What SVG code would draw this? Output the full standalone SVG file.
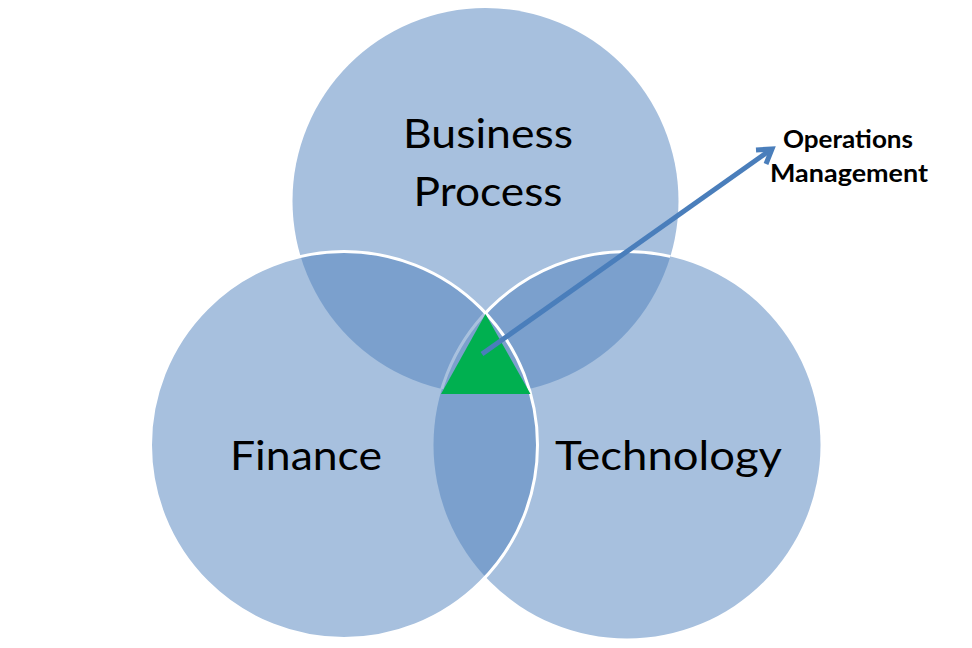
<svg xmlns="http://www.w3.org/2000/svg" width="972" height="648" viewBox="0 0 972 648">
<defs>
<style>
.base{fill:#A7C0DE;}
.ov{fill:#7BA0CD;}
.lbl{font-family:Lato,"Liberation Sans",sans-serif;font-size:40px;fill:#000;text-anchor:middle;}
.ann{font-family:Lato,"Liberation Sans",sans-serif;font-size:24px;font-weight:bold;fill:#000;text-anchor:middle;}
.wl{fill:none;stroke:#fff;stroke-width:3;}
.conn{fill:none;stroke:#4A7EBB;stroke-width:5;}
</style>
<clipPath id="cTop"><circle cx="485.5" cy="201" r="193"/></clipPath>
<clipPath id="cLeft"><circle cx="344" cy="445" r="193.5"/></clipPath>
<clipPath id="cNotLeft"><path clip-rule="evenodd" d="M0,0H972V648H0Z M150.5,445 a193.5,193.5 0 1,0 387,0 a193.5,193.5 0 1,0 -387,0Z"/></clipPath>
</defs>
<rect width="972" height="648" fill="#fff"/>
<g id="business-process">
<circle class="base" cx="485.5" cy="201" r="193"/>
</g>
<g id="technology">
<circle class="base" cx="627" cy="445" r="193.5"/>
</g>
<g id="finance">
<circle class="base" cx="344" cy="445" r="193.5"/>
</g>
<g id="overlaps">
<g clip-path="url(#cTop)"><circle class="ov" cx="344" cy="445" r="193.5"/><circle class="ov" cx="627" cy="445" r="193.5"/></g>
<g clip-path="url(#cLeft)"><circle class="ov" cx="627" cy="445" r="193.5"/></g>
<g clip-path="url(#cTop)"><g clip-path="url(#cNotLeft)"><circle class="wl" cx="627" cy="445" r="193.5"/></g></g>
<g clip-path="url(#cTop)"><g clip-path="url(#cLeft)"><circle class="wl" cx="627" cy="445" r="193.5" stroke-opacity="0.35"/></g></g>
<circle class="wl" cx="344" cy="445" r="193.5"/>
</g>
<g id="center">
<polygon points="485.5,314 441,394 530.5,394" fill="#00B050"/>
</g>
<g id="labels">
<text class="lbl" x="488" y="148" textLength="170" lengthAdjust="spacingAndGlyphs">Business</text>
<text class="lbl" x="488" y="206" textLength="149" lengthAdjust="spacingAndGlyphs">Process</text>
<text class="lbl" x="306" y="470" textLength="152" lengthAdjust="spacingAndGlyphs">Finance</text>
<text class="lbl" x="668.5" y="470" textLength="227" lengthAdjust="spacingAndGlyphs">Technology</text>
</g>
<g id="connectors">
<line class="conn" x1="482" y1="354" x2="769" y2="151"/>
<polyline class="conn" points="756,150 772,149 766,164" stroke-linejoin="miter"/>
</g>
<g id="operations-management">
<text class="ann" x="848" y="147.5" textLength="130" lengthAdjust="spacingAndGlyphs">Operations</text>
<text class="ann" x="849" y="181.5" textLength="158" lengthAdjust="spacingAndGlyphs">Management</text>
</g>
</svg>
